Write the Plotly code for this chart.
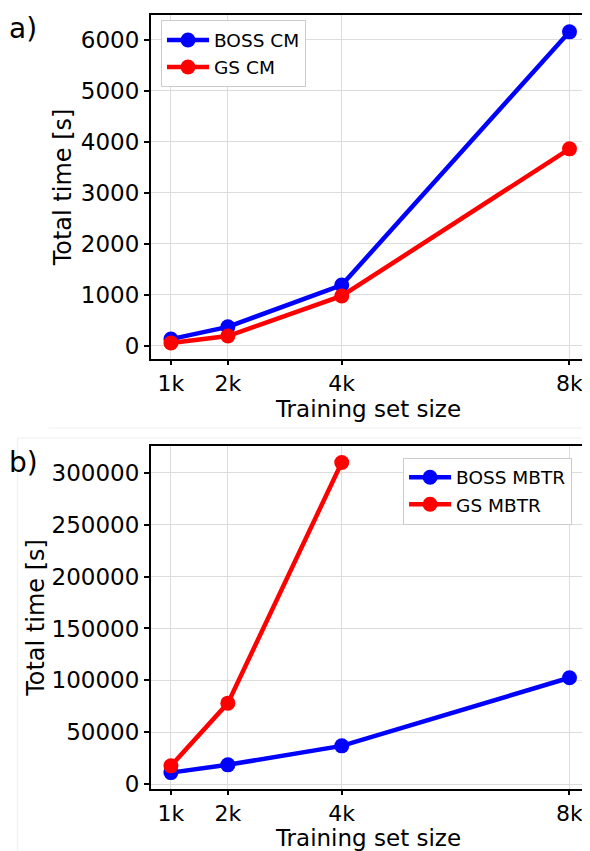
import plotly.graph_objects as go

x_vals = [1, 2, 4, 8]
x_labels = ["1k", "2k", "4k", "8k"]

boss_cm = [135, 375, 1195, 6160]
gs_cm = [60, 195, 980, 3865]

boss_mbtr = [11000, 18500, 36800, 102500]
gs_mbtr = [17500, 78000, 310000]
gs_mbtr_x = [1, 2, 4]

FONT = "DejaVu Sans"
BLUE = "#0000ff"
RED = "#ff0000"

# The page body has an 8px default margin; the figure is sized to fill the
# remaining window area.
W, H = 582, 843
ML, MR, MT, MB = 143, 2, 7, 62

fig = go.Figure()

def add(x, y, name, color, xa, ya, legend):
    fig.add_trace(go.Scatter(
        x=x, y=y, name=name, mode="lines+markers",
        line=dict(color=color, width=4.5),
        marker=dict(color=color, size=15),
        xaxis=xa, yaxis=ya, legend=legend,
    ))

add(x_vals, boss_cm, "BOSS CM", BLUE, "x", "y", "legend")
add(x_vals, gs_cm, "GS CM", RED, "x", "y", "legend")
add(x_vals, boss_mbtr, "BOSS MBTR", BLUE, "x2", "y2", "legend2")
add(gs_mbtr_x, gs_mbtr, "GS MBTR", RED, "x2", "y2", "legend2")

axis_common = dict(
    showline=True, mirror=True, linecolor="black", linewidth=2,
    showgrid=True, gridcolor="#dcdcdc", gridwidth=1,
    ticks="outside", ticklen=5, tickwidth=1.5, tickcolor="black",
    tickfont=dict(family=FONT, size=23, color="black"),
    zeroline=False,
)

title_font = dict(family=FONT, size=24, color="black")

xaxis_common = dict(axis_common, range=[0.65, 8.29], tickmode="array",
                    tickvals=x_vals, ticktext=x_labels, ticklen=4,
                    tickfont=dict(family=FONT, size=22, color="black"),
                    title=dict(text="Training set size", standoff=3,
                               font=dict(family=FONT, size=23, color="black")))

faint = dict(color="#eeeeee", width=1)

fig.update_layout(
    width=W, height=H,
    margin=dict(l=ML, r=MR, t=MT, b=MB),
    paper_bgcolor="white", plot_bgcolor="white",
    showlegend=True,
    xaxis=dict(xaxis_common, domain=[0, 1], anchor="y"),
    yaxis=dict(axis_common, domain=[0.5556, 1], anchor="x", range=[-255, 6490],
               tickvals=[0, 1000, 2000, 3000, 4000, 5000, 6000],
               title=dict(text="Total time [s]", standoff=2, font=title_font)),
    xaxis2=dict(xaxis_common, domain=[0, 1], anchor="y2"),
    yaxis2=dict(axis_common, domain=[0, 0.4432], anchor="x2", range=[-4800, 326000],
                tickvals=[0, 50000, 100000, 150000, 200000, 250000, 300000],
                ticktext=["0", "50000", "100000", "150000", "200000", "250000", "300000"],
                title=dict(text="Total time [s]", standoff=0, font=title_font)),
    legend=dict(x=0.023, y=0.993, xanchor="left", yanchor="top",
                bgcolor="white", bordercolor="#cccccc", borderwidth=1,
                font=dict(family=FONT, size=18.5, color="black"),
                itemwidth=42, tracegroupgap=0),
    legend2=dict(x=0.968, y=0.428, xanchor="right", yanchor="top",
                 bgcolor="white", bordercolor="#cccccc", borderwidth=1,
                 font=dict(family=FONT, size=18.5, color="black"),
                 itemwidth=42, tracegroupgap=0),
    annotations=[
        dict(text="a)", x=-0.33, y=1.006, xref="paper", yref="paper",
             xanchor="left", yanchor="top", showarrow=False,
             font=dict(family=FONT, size=28, color="black")),
        dict(text="b)", x=-0.33, y=0.4457, xref="paper", yref="paper",
             xanchor="left", yanchor="top", showarrow=False,
             font=dict(family=FONT, size=28, color="black")),
    ],
    shapes=[
        dict(type="line", xref="paper", yref="paper", x0=-0.2357, x1=1.01,
             y0=0.4664, y1=0.4664, line=faint),
        dict(type="line", xref="paper", yref="paper", x0=-0.3066, x1=1.01,
             y0=0.4535, y1=0.4535, line=faint),
        dict(type="line", xref="paper", yref="paper", x0=-0.3066, x1=-0.3066,
             y0=0.4535, y1=-0.09, line=faint),
    ],
)

fig.write_html("out.html")
